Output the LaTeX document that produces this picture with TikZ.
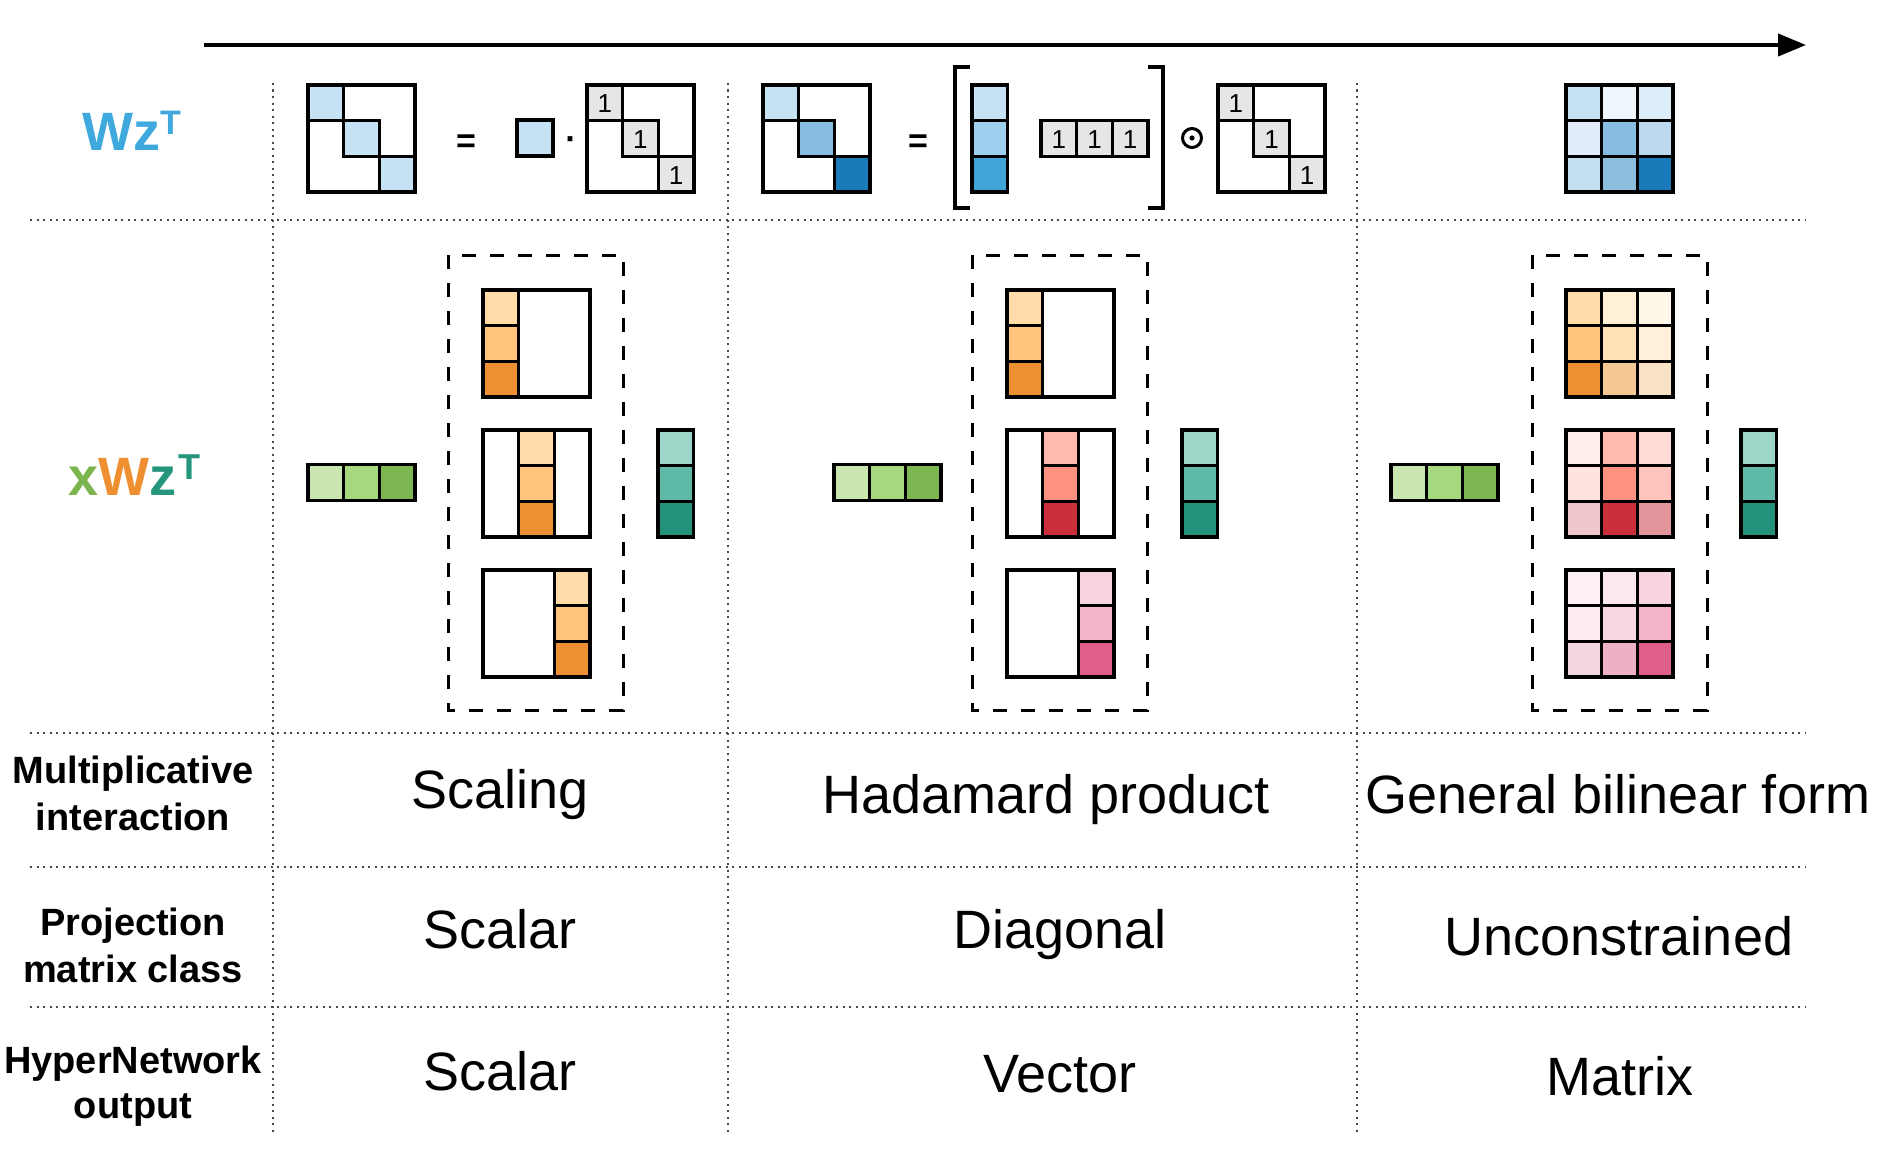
\documentclass[tikz,border=0pt]{standalone}
\usepackage{fontspec}
\setmainfont{Liberation Sans}
\usetikzlibrary{arrows.meta}
% blues
\definecolor{b11}{HTML}{C6E2F5}\definecolor{b12}{HTML}{EEF6FC}\definecolor{b13}{HTML}{DEEEF8}
\definecolor{b21}{HTML}{E1EEF9}\definecolor{b22}{HTML}{85BCE0}\definecolor{b23}{HTML}{BDD9EF}
\definecolor{b31}{HTML}{C3DFF0}\definecolor{b32}{HTML}{8BBEDD}\definecolor{b33}{HTML}{1B7BBA}
\definecolor{bv2}{HTML}{9DD0EF}\definecolor{bv3}{HTML}{3FA4D8}
% oranges
\definecolor{o11}{HTML}{FFDCA8}\definecolor{o12}{HTML}{FFF0D6}\definecolor{o13}{HTML}{FFF7EA}
\definecolor{o21}{HTML}{FFC57A}\definecolor{o22}{HTML}{FFE1B8}\definecolor{o23}{HTML}{FFF0D9}
\definecolor{o31}{HTML}{EC9033}\definecolor{o32}{HTML}{F4C895}\definecolor{o33}{HTML}{F9E2C4}
% reds
\definecolor{r11}{HTML}{FFEFEC}\definecolor{r12}{HTML}{FFBBB0}\definecolor{r13}{HTML}{FFDCD7}
\definecolor{r21}{HTML}{FFE3DE}\definecolor{r22}{HTML}{FF9181}\definecolor{r23}{HTML}{FFC5BD}
\definecolor{r31}{HTML}{EFC7CB}\definecolor{r32}{HTML}{C9303C}\definecolor{r33}{HTML}{E4959B}
% pinks
\definecolor{p11}{HTML}{FDF1F5}\definecolor{p12}{HTML}{FBE7EF}\definecolor{p13}{HTML}{F8D4E1}
\definecolor{p21}{HTML}{FCEBF1}\definecolor{p22}{HTML}{F8D6E2}\definecolor{p23}{HTML}{F4B4C9}
\definecolor{p31}{HTML}{F4D6E0}\definecolor{p32}{HTML}{EFAFC5}\definecolor{p33}{HTML}{DE6088}
% greens / teals
\definecolor{g1}{HTML}{C9E6B0}\definecolor{g2}{HTML}{A6D97D}\definecolor{g3}{HTML}{7DB551}
\definecolor{t1}{HTML}{9ED5C9}\definecolor{t2}{HTML}{5FB9A7}\definecolor{t3}{HTML}{22937A}
\definecolor{onegray}{HTML}{E6E6E6}
\definecolor{wblue}{HTML}{3FA9DE}
\definecolor{xgreen}{HTML}{7CB54D}\definecolor{xorange}{HTML}{EF8F2F}\definecolor{xteal}{HTML}{25957B}
\definecolor{dotgray}{HTML}{4A4A4A}

\newcommand{\mcell}[5]{\draw[cellb,fill=#5] ({#1+#4*35.67},{#2+#3*35.67}) rectangle ++(35.67,35.67);}
\newcommand{\onecell}[4]{\draw[cellb,fill=onegray] ({#1+#4*35.67},{#2+#3*35.67}) rectangle ++(35.67,35.67);
  \node[onetxt] at ({#1+#4*35.67+17.8},{#2+#3*35.67+19}) {1};}
\newcommand{\mframe}[2]{\draw[cellb] (#1,#2) rectangle ++(107,107);}

\begin{document}
\begin{tikzpicture}[x=1pt,y=-1pt,
  cellb/.style={draw=black,line width=3.2pt},
  onetxt/.style={font=\fontsize{26}{28}\selectfont,inner sep=0pt},
  grid/.style={draw=dotgray,line width=2.3pt,dash pattern=on 2.3pt off 4.2pt},
  dbox/.style={draw=black,line width=3pt,dash pattern=on 14pt off 14pt},
  big/.style={font=\fontsize{54}{60}\selectfont,inner sep=0pt,anchor=base},
  lab/.style={font=\fontsize{38}{44}\selectfont\bfseries,inner sep=0pt,anchor=base},
  op/.style={font=\fontsize{34}{38}\selectfont\bfseries,inner sep=0pt,anchor=base}]
\useasboundingbox (0,0) rectangle (1880,1156);

% arrow
\coordinate (arrS) at (204,45);
\coordinate (arrE) at (1806,45);
\draw[line width=4pt,-{Triangle[length=28pt,width=22pt]}] (arrS) -- (arrE);

% grid lines
\foreach \yy in {220,733,867,1007} {\draw[grid] (30,\yy) -- (1806,\yy);}
\foreach \xx in {273,728,1357} {\draw[grid] (\xx,83) -- (\xx,1134);}

% row labels
\node[anchor=base west,inner sep=0pt,font=\fontsize{54}{60}\selectfont\bfseries,text=wblue] (wzt) at (82,150)
  {Wz\raisebox{16pt}{\fontsize{34}{36}\selectfont T}};
\node[anchor=base west,inner sep=0pt,font=\fontsize{54}{60}\selectfont\bfseries] (xwzt) at (68,495)
  {\textcolor{xgreen}{x}\textcolor{xorange}{W}\textcolor{xteal}{z\kern2pt\raisebox{16pt}{\fontsize{36}{38}\selectfont T}}};

\node[lab] (l1a) at (133,783) {Multiplicative};
\node[lab] (l1b) at (133,830) {interaction};
\node[lab] (l2a) at (133,935) {Projection};
\node[lab] (l2b) at (133,982) {matrix class};
\node[lab] (l3a) at (133,1073) {HyperNetwork};
\node[lab] (l3b) at (133,1118) {output};

% column texts
\node[big] (c1a) at (500,808) {Scaling};
\node[big] (c2a) at (1046,813) {Hadamard product};
\node[big] (c3a) at (1618,813) {General bilinear form};
\node[big] (c1b) at (500,948) {Scalar};
\node[big] (c2b) at (1060,948) {Diagonal};
\node[big] (c3b) at (1619,955) {Unconstrained};
\node[big] (c1c) at (500,1090) {Scalar};
\node[big] (c2c) at (1060,1092) {Vector};
\node[big] (c3c) at (1620,1095) {Matrix};

% ---------- top row ----------
% M1
\mcell{308}{85}{0}{0}{b11}\mcell{308}{85}{1}{1}{b11}\mcell{308}{85}{2}{2}{b11}\mframe{308}{85}
\node[op] (eq1) at (466,152) {=};
\draw[cellb,fill=b11] (517,120) rectangle ++(36,36);
\node[op] (dot1) at (571,150) {·};
\onecell{587}{85}{0}{0}\onecell{587}{85}{1}{1}\onecell{587}{85}{2}{2}\mframe{587}{85}
% M2
\mcell{763}{85}{0}{0}{b11}\mcell{763}{85}{1}{1}{b22}\mcell{763}{85}{2}{2}{b33}\mframe{763}{85}
\node[op] (eq2) at (918,152) {=};
\draw[line width=3.5pt] (970,67) -- (955,67) -- (955,208) -- (970,208);
\draw[line width=3.5pt] (1148,67) -- (1163,67) -- (1163,208) -- (1148,208);
\mcell{972}{85}{0}{0}{b11}\mcell{972}{85}{1}{0}{bv2}\mcell{972}{85}{2}{0}{bv3}
\onecell{1041}{120.5}{0}{0}\onecell{1041}{120.5}{0}{1}\onecell{1041}{120.5}{0}{2}
\node[circle,draw,line width=3pt,minimum size=19pt,inner sep=0pt] (odot) at (1192,138) {};
\fill (odot.center) circle (2.6pt);
\onecell{1218}{85}{0}{0}\onecell{1218}{85}{1}{1}\onecell{1218}{85}{2}{2}\mframe{1218}{85}
% full blue
\mcell{1566}{85}{0}{0}{b11}\mcell{1566}{85}{0}{1}{b12}\mcell{1566}{85}{0}{2}{b13}
\mcell{1566}{85}{1}{0}{b21}\mcell{1566}{85}{1}{1}{b22}\mcell{1566}{85}{1}{2}{b23}
\mcell{1566}{85}{2}{0}{b31}\mcell{1566}{85}{2}{1}{b32}\mcell{1566}{85}{2}{2}{b33}

% ---------- middle row ----------
\foreach \gx in {308,834,1391} {\mcell{\gx}{464.5}{0}{0}{g1}\mcell{\gx}{464.5}{0}{1}{g2}\mcell{\gx}{464.5}{0}{2}{g3}}
\foreach \tx in {658,1182,1741} {\mcell{\tx}{430}{0}{0}{t1}\mcell{\tx}{430}{1}{0}{t2}\mcell{\tx}{430}{2}{0}{t3}}
\draw[dbox] (448,255) rectangle (623,710);
\draw[dbox] (972,255) rectangle (1147,710);
\draw[dbox] (1532,255) rectangle (1707,710);
% column 1
\mcell{483}{290}{0}{0}{o11}\mcell{483}{290}{1}{0}{o21}\mcell{483}{290}{2}{0}{o31}\mframe{483}{290}
\mcell{483}{430}{0}{1}{o11}\mcell{483}{430}{1}{1}{o21}\mcell{483}{430}{2}{1}{o31}\mframe{483}{430}
\mcell{483}{570}{0}{2}{o11}\mcell{483}{570}{1}{2}{o21}\mcell{483}{570}{2}{2}{o31}\mframe{483}{570}
% column 2
\mcell{1007}{290}{0}{0}{o11}\mcell{1007}{290}{1}{0}{o21}\mcell{1007}{290}{2}{0}{o31}\mframe{1007}{290}
\mcell{1007}{430}{0}{1}{r12}\mcell{1007}{430}{1}{1}{r22}\mcell{1007}{430}{2}{1}{r32}\mframe{1007}{430}
\mcell{1007}{570}{0}{2}{p13}\mcell{1007}{570}{1}{2}{p23}\mcell{1007}{570}{2}{2}{p33}\mframe{1007}{570}
% column 3
\foreach \r in {0,1,2} {\foreach \c in {0,1,2} {
  \pgfmathtruncatemacro{\rr}{\r+1}\pgfmathtruncatemacro{\cc}{\c+1}
  \mcell{1566}{290}{\r}{\c}{o\rr\cc}
  \mcell{1566}{430}{\r}{\c}{r\rr\cc}
  \mcell{1566}{570}{\r}{\c}{p\rr\cc}
}}
\end{tikzpicture}
\end{document}
